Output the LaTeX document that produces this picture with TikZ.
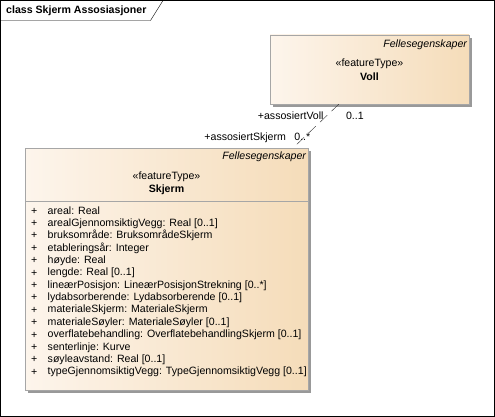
\documentclass[tikz,border=0pt]{standalone}
\usepackage{fontspec}
\setmainfont{Liberation Sans}
\usepackage{tikz}
\usetikzlibrary{positioning, calc, shadows}
\definecolor{boxleft}{HTML}{FDF5EC}
\definecolor{boxright}{HTML}{F5DCB9}
\definecolor{boxline}{HTML}{A6A6A6}

\begin{document}
\begin{tikzpicture}[
	x=1pt, y=-1pt,
	% Estilo para las clases
	classbox/.style={
		draw=boxline,
		left color=boxleft,
		right color=boxright,
		inner sep=0pt,
		drop shadow={shadow xshift=3pt, shadow yshift=-3pt, fill=black!40, opacity=1}
	},
	% Estilos para los textos
	umltext/.style={
		inner sep=0pt,
		font=\fontsize{10.6}{12}\selectfont
	},
	felles/.style={
		umltext,
		anchor=east,
		font=\fontsize{10.6}{12}\selectfont\itshape
	},
	stereo/.style={
		umltext
	},
	classname/.style={
		umltext,
		font=\fontsize{10.6}{12}\selectfont\bfseries
	},
	attr/.style={
		umltext,
		anchor=west
	},
	% Estilo para la asociacion
	assoc/.style={
		draw=black!80,
		dash pattern=on 10pt off 6pt
	}
	]
	
	\useasboundingbox (0,0) rectangle (495,417);
	
	% --- Marco del diagrama ---
	\draw[black] (0.5,0.5) rectangle (494.5,416.5);
	\draw[black] (0.5,20.5) -- (150.5,20.5) -- (163,0.5);
	\node[classname, anchor=west] (title) at (6,10.5) {class Skjerm Assosiasjoner};
	
	% --- Clase Voll ---
	\node[classbox, minimum width=199pt, minimum height=69pt] (voll) at (369.5,69.5) {};
	\node[felles] (vollfelles) at ([xshift=-2pt, yshift=-10pt]voll.north east) {Fellesegenskaper};
	\node[stereo] (vollstereo) at ([yshift=-29pt]voll.north) {«featureType»};
	\node[classname] (vollname) at ([yshift=-42pt]voll.north) {Voll};
	
	% --- Clase Skjerm ---
	\node[classbox, minimum width=283pt, minimum height=242pt] (skjerm) at (166.5,269) {};
	\node[felles] (skjermfelles) at ([xshift=-2pt, yshift=-9pt]skjerm.north east) {Fellesegenskaper};
	\node[stereo] (skjermstereo) at ([yshift=-29pt]skjerm.north) {«featureType»};
	\node[classname] (skjermname) at ([yshift=-42pt]skjerm.north) {Skjerm};
	\draw[boxline] ([yshift=-53pt]skjerm.north west) -- ([yshift=-53pt]skjerm.north east);
	
	% Atributos
	\foreach \attrtext [count=\i] in {
		areal: Real,
		arealGjennomsiktigVegg: Real [0..1],
		bruksområde: BruksområdeSkjerm,
		etableringsår: Integer,
		høyde: Real,
		lengde: Real [0..1],
		lineærPosisjon: LineærPosisjonStrekning [0..*],
		lydabsorberende: Lydabsorberende [0..1],
		materialeSkjerm: MaterialeSkjerm,
		materialeSøyler: MaterialeSøyler [0..1],
		overflatebehandling: OverflatebehandlingSkjerm [0..1],
		senterlinje: Kurve,
		søyleavstand: Real [0..1],
		typeGjennomsiktigVegg: TypeGjennomsiktigVegg [0..1]} {
		\node[attr] (plus\i) at (31, 211+12.4*\i-12.4) {+};
		\node[attr] (attr\i) at (47.5, 211+12.4*\i-12.4) {\attrtext};
	}
	
	% --- Asociacion ---
	\coordinate (vollend) at ([xshift=69pt]voll.south west);
	\coordinate (skjermend) at ([xshift=-15pt]skjerm.north east);
	\draw[assoc] (vollend) -- (skjermend);
	\node[umltext, anchor=east] (rolevoll) at ([xshift=-15pt, yshift=-12pt]vollend) {+assosiertVoll};
	\node[umltext, anchor=west] (multvoll) at ([xshift=7pt, yshift=-12pt]vollend) {0..1};
	\node[umltext, anchor=east] (roleskjerm) at ([xshift=-7pt, yshift=10.5pt]skjermend) {+assosiertSkjerm};
	\node[umltext, anchor=west] (multskjerm) at ([xshift=1pt, yshift=10.5pt]skjermend) {0..*};
	
\end{tikzpicture}
\end{document}
